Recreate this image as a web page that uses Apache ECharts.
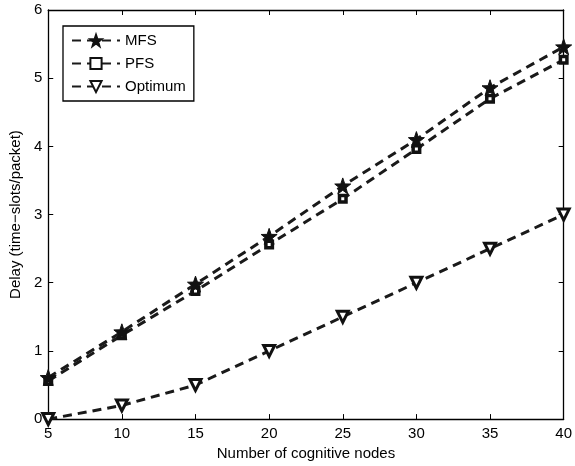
<!DOCTYPE html>
<html><head><meta charset="utf-8">
<script src="https://cdn.jsdelivr.net/npm/echarts@6/dist/echarts.min.js"></script>
<style>html,body{margin:0;padding:0;background:#fff}#c{width:575px;height:466px}</style>
</head><body><div id="c"></div>
<script>
const nodes = [5, 10, 15, 20, 25, 30, 35, 40];
const mfs = [0.61, 1.28, 1.98, 2.68, 3.42, 4.10, 4.86, 5.46];
const pfs = [0.56, 1.23, 1.88, 2.56, 3.23, 3.96, 4.70, 5.27];
const optimum = [0.0, 0.2, 0.5, 1.0, 1.5, 2.0, 2.5, 3.0];
const xTicks = [5, 10, 15, 20, 25, 30, 35, 40];
const yTicks = [0, 1, 2, 3, 4, 5, 6];

const FONT = 'Liberation Sans';
const FS = 15;
const star = 'path://M0,-10 L2.35,-3.24 L9.51,-3.09 L3.8,1.24 L5.88,8.09 L0,4 L-5.88,8.09 L-3.8,1.24 L-9.51,-3.09 L-2.35,-3.24 Z';
const pair = ys => nodes.map((x, i) => [x, ys[i]]);
const dash = { color: '#1a1a1a', width: 3, type: [9, 6] };

const chart = echarts.init(document.getElementById('c'), null, { renderer: 'canvas' });
const axisBase = {
  type: 'value',
  axisLine: { show: true, onZero: false, lineStyle: { color: '#000', width: 1.3 } },
  axisTick: { show: true, inside: true, length: 5, lineStyle: { color: '#000' } },
  splitLine: { show: false },
};
chart.setOption({
  animation: false,
  backgroundColor: '#fff',
  grid: { left: 44, right: 9, top: 10, bottom: 45 },
  legend: {
    orient: 'vertical', left: 63, top: 26,
    padding: [7, 8, 7, 8], itemGap: 8, itemWidth: 48, itemHeight: 14,
    borderColor: '#000', borderWidth: 1.3, backgroundColor: '#fff',
    textStyle: { fontFamily: FONT, fontSize: FS, color: '#000' },
    data: ['MFS', 'PFS', 'Optimum']
  },
  xAxis: [
    Object.assign({}, axisBase, {
      min: 5, max: 40, interval: 5, position: 'bottom',
      name: 'Number of cognitive nodes', nameLocation: 'middle', nameGap: 26,
      nameTextStyle: { fontFamily: FONT, fontSize: FS, color: '#000' },
      axisLabel: { fontFamily: FONT, fontSize: FS, color: '#000', margin: 7,
        formatter: v => xTicks.includes(v) ? String(v) : '' }
    }),
    Object.assign({}, axisBase, {
      min: 5, max: 40, interval: 5, position: 'top', axisLabel: { show: false }
    })
  ],
  yAxis: [
    Object.assign({}, axisBase, {
      min: 0, max: 6, interval: 1, position: 'left',
      name: 'Delay (time\u2212slots/packet)', nameLocation: 'middle', nameGap: 23,
      nameTextStyle: { fontFamily: FONT, fontSize: FS, color: '#000' },
      axisLabel: { fontFamily: FONT, fontSize: FS, color: '#000', margin: 6,
        formatter: v => yTicks.includes(v) ? String(v) : '' }
    }),
    Object.assign({}, axisBase, {
      min: 0, max: 6, interval: 1, position: 'right', axisLabel: { show: false }
    })
  ],
  series: [
    { name: 'MFS', type: 'line', data: pair(mfs), lineStyle: dash,
      symbol: star, symbolSize: 16, showAllSymbol: true,
      itemStyle: { color: '#111', borderColor: '#111', borderWidth: 1 }, z: 3 },
    { name: 'PFS', type: 'line', data: pair(pfs), lineStyle: dash,
      symbol: 'rect', symbolSize: 6.5,
      itemStyle: { color: '#fff', borderColor: '#111', borderWidth: 3.5 }, z: 2 },
    { name: 'Optimum', type: 'line', data: pair(optimum), lineStyle: dash,
      symbol: 'triangle', symbolRotate: 180, symbolSize: 11,
      itemStyle: { color: '#fff', borderColor: '#111', borderWidth: 3 }, z: 2 }
  ]
});
</script></body></html>
